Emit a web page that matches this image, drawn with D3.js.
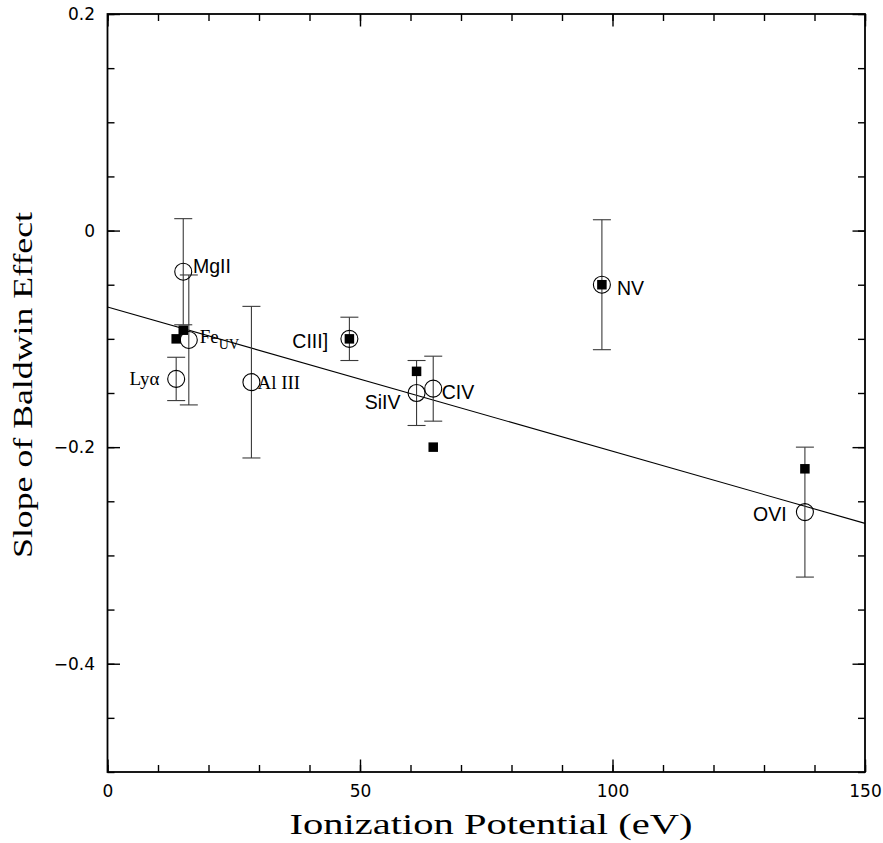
<!DOCTYPE html>
<html>
<head>
<meta charset="utf-8">
<script src="https://cdn.jsdelivr.net/npm/d3@7"></script>
<style>
  html, body { margin: 0; padding: 0; background: #fff; }
  svg { display: block; }
</style>
</head>
<body>
<svg id="chart" width="883" height="843"></svg>
<script>
// ---------- data ----------
const lineNames   = ["Lyα", "MgII", "Fe", "Al III", "CIII]", "SiIV", "CIV", "NV", "OVI"];
const ionPotential = [13.6, 15.0, 16.1, 28.5, 47.9, 61.2, 64.5, 97.9, 138.1];
const slopeOpen    = [-0.137, -0.038, -0.101, -0.140, -0.100, -0.150, -0.146, -0.050, -0.260];
const slopeErr     = [0.020, 0.049, 0.060, 0.070, 0.020, 0.030, 0.030, 0.060, 0.060];

const squareIP     = [13.6, 15.0, 47.9, 61.2, 64.5, 97.9, 138.1];
const squareSlope  = [-0.100, -0.092, -0.100, -0.130, -0.200, -0.050, -0.220];

const fitX = [0, 150];
const fitY = [-0.0706, -0.2704];

const xMajorTicks = [0, 50, 100, 150];
const xMinorTicks = d3.range(0, 151, 10);
const yMajorTicks = [0.2, 0, -0.2, -0.4];
const yMinorTicks = d3.range(-0.5, 0.2001, 0.05).map(v => +v.toFixed(2));

// ---------- layout (styles / offsets, not data) ----------
const labelLayout = [
  {dx: -16.7, dy: 5.7, anchor: "end",   font: "serif"},
  {dx: 9.7,   dy: 1.5, anchor: "start", font: "sans"},
  {dx: 11,    dy: 2.6, anchor: "start", font: "serif", sub: "UV"},
  {dx: 6,     dy: 7.3, anchor: "start", font: "serif"},
  {dx: -21.3, dy: 9.3, anchor: "end",   font: "sans"},
  {dx: -16,   dy: 16.3, anchor: "end",  font: "sans"},
  {dx: 8.4,   dy: 10,  anchor: "start", font: "sans"},
  {dx: 15,    dy: 10,  anchor: "start", font: "sans"},
  {dx: -18.3, dy: 9,   anchor: "end",   font: "sans"}
];

const L = 107.5, R = 865, T = 14, B = 772;
const svg = d3.select("#chart");

const x = d3.scaleLinear().domain([0, 150]).range([L, R]);
const y = d3.scaleLinear().domain([-0.5, 0.2]).range([B, T]);

const tickFont = "'DejaVu Sans', sans-serif";
const sansFont = "'Liberation Sans', Arial, sans-serif";
const serifFont = "'Liberation Serif', 'Times New Roman', serif";

function styleAxis(g) {
  g.select(".domain").remove();
  g.selectAll(".tick line").attr("stroke", "#000").attr("stroke-width", 1.4);
  g.selectAll("text").attr("fill", "#000").attr("font-family", tickFont).attr("font-size", 17);
}

// bottom axis
svg.append("g").attr("transform", `translate(0,${B})`)
  .call(d3.axisBottom(x).tickValues(xMinorTicks).tickSize(-7).tickFormat(""))
  .call(styleAxis);
svg.append("g").attr("transform", `translate(0,${B})`)
  .call(d3.axisBottom(x).tickValues(xMajorTicks).tickSize(-12.5).tickPadding(13).tickFormat(d3.format("d")))
  .call(styleAxis);
// top axis
svg.append("g").attr("transform", `translate(0,${T})`)
  .call(d3.axisTop(x).tickValues(xMinorTicks).tickSize(-7).tickFormat(""))
  .call(styleAxis);
svg.append("g").attr("transform", `translate(0,${T})`)
  .call(d3.axisTop(x).tickValues(xMajorTicks).tickSize(-12.5).tickFormat(""))
  .call(styleAxis);
// left axis
const fmtY = v => v === 0 ? "0" : d3.format(".1f")(v).replace("-", "\u2212");
svg.append("g").attr("transform", `translate(${L},0)`)
  .call(d3.axisLeft(y).tickValues(yMinorTicks).tickSize(-7).tickFormat(""))
  .call(styleAxis);
svg.append("g").attr("transform", `translate(${L},0)`)
  .call(d3.axisLeft(y).tickValues(yMajorTicks).tickSize(-12.5).tickPadding(12.5).tickFormat(fmtY))
  .call(styleAxis);
// right axis
svg.append("g").attr("transform", `translate(${R},0)`)
  .call(d3.axisRight(y).tickValues(yMinorTicks).tickSize(-7).tickFormat(""))
  .call(styleAxis);
svg.append("g").attr("transform", `translate(${R},0)`)
  .call(d3.axisRight(y).tickValues(yMajorTicks).tickSize(-12.5).tickFormat(""))
  .call(styleAxis);

// frame
svg.append("rect").attr("x", L).attr("y", T).attr("width", R - L).attr("height", B - T)
  .attr("fill", "none").attr("stroke", "#000").attr("stroke-width", 1.8);

// axis titles
svg.append("text")
  .attr("x", 491).attr("y", 834).attr("text-anchor", "middle")
  .attr("font-family", serifFont).attr("font-size", 30)
  .attr("textLength", 403).attr("lengthAdjust", "spacingAndGlyphs")
  .text("Ionization Potential (eV)");
svg.append("text")
  .attr("transform", "translate(32,385) rotate(-90)").attr("text-anchor", "middle")
  .attr("font-family", serifFont).attr("font-size", 27)
  .attr("textLength", 346).attr("lengthAdjust", "spacingAndGlyphs")
  .text("Slope of Baldwin Effect");

// regression line
const fitData = fitX.map((v, i) => [v, fitY[i]]);
svg.append("path").datum(fitData)
  .attr("d", d3.line().x(d => x(d[0])).y(d => y(d[1])))
  .attr("fill", "none").attr("stroke", "#000").attr("stroke-width", 1.1);

// error bars
const pts = lineNames.map((n, i) => ({name: n, ip: ionPotential[i], s: slopeOpen[i], e: slopeErr[i], lay: labelLayout[i]}));
const eb = svg.append("g").attr("stroke", "#3a3a3a").attr("stroke-width", 1.1);
pts.forEach(p => {
  const cx = x(p.ip), y0 = y(p.s - p.e), y1 = y(p.s + p.e);
  eb.append("line").attr("x1", cx).attr("x2", cx).attr("y1", y0).attr("y2", y1);
  eb.append("line").attr("x1", cx - 9).attr("x2", cx + 9).attr("y1", y0).attr("y2", y0);
  eb.append("line").attr("x1", cx - 9).attr("x2", cx + 9).attr("y1", y1).attr("y2", y1);
});

// open circles
svg.append("g").selectAll("circle").data(pts).join("circle")
  .attr("cx", d => x(d.ip)).attr("cy", d => y(d.s)).attr("r", 8.5)
  .attr("fill", "none").attr("stroke", "#000").attr("stroke-width", 1.1);

// filled squares
const sq = squareIP.map((v, i) => ({ip: v, s: squareSlope[i]}));
const sz = 9.5;
svg.append("g").selectAll("rect").data(sq).join("rect")
  .attr("x", d => x(d.ip) - sz / 2).attr("y", d => y(d.s) - sz / 2)
  .attr("width", sz).attr("height", sz).attr("fill", "#000");

// labels
pts.forEach(p => {
  const l = p.lay;
  const t = svg.append("text")
    .attr("x", x(p.ip) + l.dx).attr("y", y(p.s) + l.dy)
    .attr("text-anchor", l.anchor)
    .attr("font-family", l.font === "serif" ? serifFont : sansFont)
    .attr("font-size", l.font === "serif" ? 19 : 19.5)
    .attr("fill", "#000");
  t.append("tspan").text(p.name);
  if (l.sub) {
    t.append("tspan").attr("dy", 6).attr("font-size", 14).text(l.sub);
  }
});
</script>
</body>
</html>
